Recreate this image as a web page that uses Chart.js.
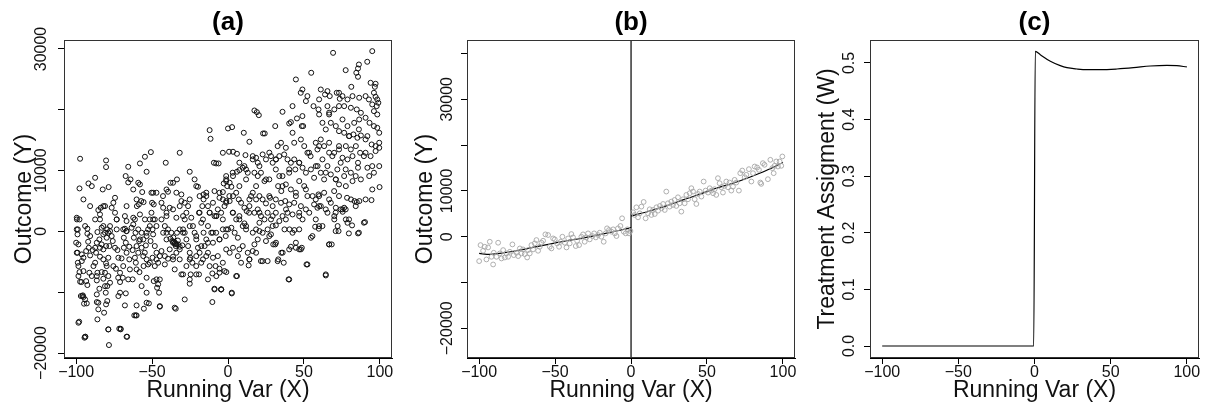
<!DOCTYPE html>
<html>
<head>
<meta charset="utf-8">
<script src="https://cdn.jsdelivr.net/npm/chart.js"></script>
<style>
  html, body { margin: 0; padding: 0; background: #fff; }
  #wrap { position: relative; width: 1209px; height: 405px; }
  .panel { position: absolute; top: 0; height: 405px; }
</style>
</head>
<body>
<div id="wrap">
  <div class="panel" style="left:0;width:400px"><canvas id="chartA"></canvas></div>
  <div class="panel" style="left:400px;width:400px"><canvas id="chartB"></canvas></div>
  <div class="panel" style="left:800px;width:409px"><canvas id="chartC"></canvas></div>
</div>
<script>
// x axis (all panels)
const xTicks = [-100, -50, 0, 50, 100];
const xMin = -108, xMax = 108;

// panel (a): raw outcome vs running variable
const aYTicks = [-20000, -10000, 0, 10000, 20000, 30000];
const aYLabeled = [-20000, 0, 10000, 30000];
const aYMin = -20820, aYMax = 31480;
const aPoints = [
  [-99.6,330],[-99.1,-490],[-98.5,-2140],[-99.6,-3510],[-98.9,-5150],[-98.5,-5700],[-97.8,-6690],[-98.5,-7340],[-97.4,-8270],[-96.5,-8330],
  [-96.9,-10630],[-95.6,-10520],[-95.2,-10800],[-94.8,-11890],[-93,-11840],[-98,-14850],[-94.5,-17480],[-93.9,-17320],[-97.4,11950],[-97.8,7070],
  [-94.1,880],[-92.6,440],[-92.6,-380],[-92.1,-1700],[-91.7,-2690],[-93.4,-3230],[-96.3,-3780],[-95.2,-4330],[-91.3,-6800],[-92.6,-8820],
  [-89.7,-7340],[-90.8,-3950],[-89.1,-3070],[-87.5,-2690],[-86.9,-3510],[-99.6,2250],[-97.8,1970],[-89.7,7450],[-91.9,7890],[-87.5,8820],
  [-86,-110],[-84.7,-1320],[-84.3,-2690],[-83.2,-2140],[-82.1,-490],[-83.2,600],[-84.3,1970],[-82.1,880],[-81,-220],[-79.9,-1040],
  [-80.3,-2410],[-79.5,330],[-77.7,50],[-76.6,-770],[-75.9,-1590],[-78.1,-2410],[-85.4,3510],[-83.8,3890],[-82.1,4160],[-84.3,-4160],
  [-82.1,-4600],[-80.3,-5260],[-79.9,-5700],[-83.2,-6690],[-86,-6800],[-81,-6800],[-86.4,-8060],[-82.1,-7780],[-78.8,-7340],[-77.7,-8440],
  [-79.5,-8990],[-86.4,-10360],[-86.4,-11620],[-85.4,-12820],[-86,-14470],[-80.5,-10080],[-79.5,-11450],[-80.3,-12000],[-81.6,-13370],[-78.8,-16110],
  [-78.4,-18690],[-71.6,-16000],[-80.3,11670],[-80.3,10580],[-82.5,6900],[-78.6,7290],[-76.6,3890],[-74.4,5530],[-75.5,4710],[-87.5,-5150],
  [-88.6,-5700],[-84.7,-9430],
  [-74.4,3070],[-73.3,1970],[-73.3,330],[-74.4,-2690],[-72.8,-3070],[-72.2,-4330],[-73.8,-6140],[-71.1,-6800],[-69.3,-7620],[-71.1,-8330],
  [-69,330],[-67.9,440],[-66.8,50],[-68.6,-1040],[-67.3,-1860],[-68.6,-2690],[-65,-2520],[-66.8,-3510],[-70.1,-4440],[-65,-4600],
  [-69,-5700],[-64.6,-6250],[-65.7,-7890],[-71.1,-10080],[-72.2,-10630],[-67.9,-12170],[-67.3,-10190],[-66.8,-17320],[-70.7,-16110],[-67.4,9100],
  [-65.7,8060],[-64.2,8550],[-65.7,10630],[-62.4,6900],[-67.9,2520],[-66.8,1700],[-63.5,600],[-62.4,2250],[-61.3,1970],[-60.9,-220],
  [-62,-1040],[-62.8,-3070],[-61.3,-4330],[-60.7,-5150],[-60.2,-6250],[-60.7,-13810],[-61.7,-13810],[-60.2,-12170],[-62.8,-7890],
  [-59.1,8000],[-58,7730],[-58,11180],[-54.7,12280],[-53.6,9810],[-56.5,6470],[-60,4160],[-58.7,4440],[-57.2,4990],[-55.6,4820],
  [-58,2790],[-54.7,1970],[-59.1,330],[-56.9,-220],[-55.8,-1320],[-58.5,-1590],[-53.6,-220],[-52.6,330],[-54.1,-2300],[-56.9,-2690],
  [-59.1,-3510],[-55.8,-4060],[-53.6,-4600],[-52.6,-5430],[-55.6,-5700],[-58.3,-6690],[-53.6,-7620],[-56.9,-8990],[-53.6,-10080],[-52.1,-11840],
  [-55.4,-12710],[-50.4,6360],[-49.3,6360],[-47.1,6360],[-50,4710],[-48.9,4440],[-50.4,3070],[-48.2,1970],[-47.1,880],[-49.7,330],
  [-49.3,-490],[-51,-1590],[-48.2,-2410],[-47.1,-3510],[-49.7,-4330],[-46,-5150],[-48.2,-5700],[-47.1,-7890],[-46,-8710],[-46.7,-9260],
  [-45.4,-10080],[-44.9,-12380],[-50.8,13040],[-48.9,-8170],
  [-41,11290],[-40.5,6900],[-39.5,6520],[-37.9,8000],[-36.2,8000],[-33.6,8550],[-31.8,12930],[-30.7,6080],[-43.8,4710],[-42.7,3890],
  [-40.5,3070],[-38.4,3890],[-36.2,3620],[-34,2250],[-31.8,4160],[-30.7,4990],[-43.8,1970],[-41.6,880],[-39.5,330],[-42.7,-220],
  [-40.5,-1320],[-37.9,-1210],[-36.6,-1590],[-35.1,-2030],[-34.4,-2410],[-32.9,-2140],[-31.8,-2520],[-30.1,-2300],[-43.8,-3230],[-41.6,-4060],
  [-39.5,-4490],[-36.2,-4160],[-34,-3510],[-31.8,-4600],[-41.6,-5430],[-35.1,-6250],[-30.7,-7070],[-34.4,-12710],[-37.3,-220],[-31.8,330],
  [-33.6,-220],[-35.5,-1700],[-34.8,-1900],[-33,-1500],[-36,-1000],
  [-29.6,330],[-28.5,-220],[-27.4,-1320],[-26.3,-2410],[-25.2,-3510],[-24.8,-4330],[-23.5,-5150],[-27.4,-5700],[-29.6,-7070],[-24.6,-7070],
  [-25.2,-8600],[-28.5,1970],[-27.4,3070],[-26.3,4160],[-25.2,5260],[-24.2,2250],[-23.1,880],[-22,-220],[-20.9,-1320],[-19.8,-2690],
  [-18.7,-3510],[-17.6,-5150],[-20.9,-5700],[-19.1,-7070],[-16.5,-4600],[-15.4,-2410],[-16.1,-220],[-17.6,1420],[-19.1,3070],[-16.9,4160],
  [-16.1,5260],[-20.9,7450],[-19.8,7340],[-18.7,5810],[-16.1,6080],[-25.2,9810],[-22,8550],[-28.5,4710],
  [-12.1,16660],[-11.5,15230],[-14.3,5810],[-9.3,11290],[-7.8,11180],[-6.2,11180],[-3.4,12930],[-8.9,6630],[-5.6,6360],[-13.2,4160],
  [-9.9,4710],[-12.1,3070],[-8.9,2520],[-6.7,3620],[-4.5,3070],[-2.3,4160],[-1.1,4990],[-13.2,880],[-11,-220],[-14.3,-1320],
  [-9.9,-1860],[-7.8,-220],[-5.6,-1320],[-3.4,330],[-1.5,-770],[0,330],[-13.2,-3510],[-9.9,-4330],[-6.7,-4060],[-8.2,-5700],
  [-5.6,-6140],[-2.3,-6520],[-1.1,-6690],[-10.3,-6910],[-13.2,-7890],[-8.9,-9430],[-4.5,-9540],[-10.3,-11620],[2.5,-10080],[-2.8,7890],
  [-1.2,8270],[-0.5,7450],[-5.6,5530],[-3.4,6470],
  [0,16930],[2.7,17150],[0.7,13100],[3.3,13100],[5.9,12770],[11.5,12550],[10.4,16220],[14.1,14740],[1.1,8000],[2.2,7340],
  [3.3,9100],[5.9,9810],[7.5,10080],[9.7,10470],[10.8,10740],[11.9,10190],[13,9650],[1.1,4990],[3.3,5810],[5.4,6360],
  [7.1,5260],[8.6,4710],[10.8,3890],[12.3,3340],[14.1,4160],[3.3,3070],[5.4,1970],[7.5,2520],[9.7,880],[11.9,330],
  [2.2,600],[4.4,-220],[6.5,-1040],[9.7,-2410],[13,-3510],[3.3,-2690],[1.1,-3510],[6.5,-4060],[8.6,-5150],[14.1,-4600],
  [5.9,-7340],[13.6,-5590],[10.8,1320],[13.9,3070],[15.2,5810],
  [17.4,19890],[19,19620],[20.3,19120],[23.1,16110],[24.2,16110],[16.3,12380],[18.5,12110],[19.6,11290],[22.8,12660],[25,11840],
  [28.3,12380],[29.4,11290],[17.4,9650],[19.6,9100],[21.7,9650],[24,8270],[27.2,8550],[16.3,6360],[18.5,5260],[20.7,5810],
  [22.8,5260],[25,4600],[27.7,5530],[29.4,4160],[17.4,3070],[19.6,3620],[21.7,2520],[24,1970],[26.1,3070],[28.3,1970],
  [18.5,330],[20.7,1420],[22.8,-220],[26.1,330],[29.4,880],[16.3,-3230],[18.5,-3510],[21.7,-4880],[26.1,-4880],[28.3,-490],
  [25,-1590],[17.4,-2140],[29.8,-2140],[19.6,-1320],
  [31.1,17320],[35.9,19670],[40.3,17750],[41.4,17970],[32.7,14030],[34.9,14580],[38.1,13750],[42.5,16220],[43.6,14580],[31.5,11840],
  [33.8,12380],[37,12660],[39.2,11840],[41.4,11290],[43.6,11840],[31.5,10190],[35.9,9100],[40.3,9650],[44.3,10190],[33,7450],
  [35.1,6630],[38.1,7730],[41.4,6900],[44.7,5810],[31.5,5260],[34.9,4710],[37.7,4990],[40.3,4440],[43.6,4710],[31.5,3070],
  [35.9,2520],[39.2,3070],[42.5,2790],[33.8,1700],[38.1,1970],[31.5,990],[37.2,330],[40.5,330],[43.7,220],[31.1,-2140],
  [33.1,-4600],[35.1,-3510],[36.7,-5150],[41.4,-2520],[39.9,-7890],[44.7,-2690],[42.5,-220],
  [44.7,24990],[45.4,18580],[48.6,17320],[49.5,17320],[49,23340],[47.9,22800],[52.3,22250],[51.3,21430],[54.8,26090],[56.3,20600],
  [59.6,20060],[48,15120],[50.2,14030],[52.3,12930],[54.4,12380],[57.8,14580],[58.9,13480],[46.9,11290],[49.1,10470],[51.3,9650],
  [54.6,10190],[56.7,8820],[59,10740],[46.9,8270],[50.2,7450],[52.3,5810],[55.7,5810],[57.8,5260],[59.6,6080],[48,4160],
  [51.3,3620],[56.7,4440],[58.9,3890],[46.9,2520],[49.1,1970],[53.5,3070],[57.8,1970],[57.4,770],[54.6,-1040],[48.6,-2690],
  [51.7,-5430],[46.9,330],[59.8,440],
  [61.1,23340],[65.5,23070],[63.9,22520],[67,22250],[69.2,29370],[65.5,20600],[66.6,19230],[71.6,22800],[73.1,22800],[73.6,21810],
  [70,20060],[60,19230],[62.2,17860],[64.4,16770],[67.7,17860],[71,17320],[73.1,16490],[61.1,15120],[63.3,14030],[66.6,14580],
  [69.9,12930],[73.1,13480],[62.2,11840],[65.5,10740],[68.7,12380],[72,10190],[74.2,11290],[61.1,9650],[63.3,8550],[67.7,9370],
  [71,8550],[73.1,7730],[60,5810],[63.3,6360],[66.6,5260],[69.9,6630],[73.1,5810],[61.1,4160],[64.4,3620],[67.7,4710],
  [71,3890],[74.2,3620],[62.2,880],[65.5,3070],[70,2520],[72.2,880],[66.6,-2140],[68.3,-2140],[64.4,-7070],[70,1970],
  [72.8,50],
  [77.5,26520],[81.2,23780],[86.2,27450],[85.6,26800],[84.5,26090],[85.6,25430],[75.4,22250],[78.7,21700],[82,22250],[86.4,21980],
  [76.5,20600],[80.9,20330],[84.8,20060],[87.5,19510],[75.4,18410],[78.7,17320],[83.1,17860],[86.4,18410],[76.5,16220],[79.8,15670],
  [82.6,15950],[85.2,15400],[87.5,15780],[77.6,14030],[80.9,13480],[84.2,14030],[87,12930],[75.4,12110],[78.7,11840],[82,12380],
  [85.6,11290],[89.5,12380],[76.5,9100],[80.9,9650],[85.6,10470],[87.5,8550],[77.6,7450],[82,8270],[78.4,5530],[81,5260],
  [83.3,4990],[84.8,4820],[86.5,4990],[76.5,3890],[75.4,3620],[77.6,1970],[78.7,1420],[81.7,990],[79.6,-330],[85.6,-330],
  [75.5,3230],
  [91.7,27900],[95,29650],[93.9,24440],[97.2,24280],[96.7,23780],[96.1,22800],[97.2,22140],[98.3,21700],[99,21150],[97.9,20600],
  [90.6,22250],[92.8,21700],[95,20880],[96.1,19780],[98.3,19230],[90.6,18690],[93.2,17860],[96.1,17320],[98.3,17040],[99.6,16220],
  [91.8,15670],[94.6,14300],[97.2,14030],[99.6,14580],[90.6,12930],[93.9,12380],[97.2,13210],[99.6,13750],[91.8,10470],[95,10740],
  [99.6,10740],[93,9100],[96.1,9650],[95,6900],[99.8,7290],[90.6,5260],[94.5,5150],[90.2,1530],
  // second reading pass, lower half
  [-99.5,1970],[-98.9,330],[-100,-1860],[-99.1,-3500],[-96.3,-4880],[-95.2,-6530],[-93.4,-8180],[-95.9,-10640],[-94.1,-11190],[-98.5,-15020],
  [-94.1,-17320],[-87.5,1970],[-84.3,2800],[-81,4160],[-77.7,870],[-78.8,-210],[-90.8,-770],[-86.4,-1860],[-82.1,-2960],[-78.8,-4330],
  [-75.5,-5710],[-72.3,-7620],[-86.4,-7350],[-81,-9000],[-85.4,-11730],[-78.8,-16120],[-70.7,-16010],[-66.4,-17320],[-66.8,50],[-62.4,1150],
  [-58,-1320],[-60.2,-2420],[-53.6,-770],[-51.5,870],[-49.3,1970],[-54.8,-3500],[-51.5,-5150],[-47.1,-4610],[-44.9,-7900],[-60.2,-13820],
  [-53.6,-11730],[-44.9,-12290],[-40.5,-210],[-36.2,-1860],[-34,-2140],[-31.8,-2960],[-38.4,-2960],[-29.6,-210],[-25.2,870],[-20.9,-770],
  [-17.6,-2420],[-14.3,-4060],[-12.1,-5710],[-7.7,-7350],[-5.6,-6790],[-8.9,-9540],[-4.5,-9540],[-28.5,-11190],[-35.1,-12550],[-25.2,-7900],
  [-20.9,-7070],[-16.5,1970],[-12.1,3080],[-7.7,2520],[-3.4,1970],[-1.2,330],[-5.6,-1320],[-10,-210],[-13.2,-1860],[-20.9,-4060],
  [-25.2,-4610],[-36.2,-4610],[-44.9,-4060],
  [-1.2,4720],[3.1,3080],[7.5,1970],[11.9,870],[16.3,-210],[20.7,50],[27.2,-770],[31.6,-1860],[36,-3500],[40.3,-2960],
  [44.7,-1860],[48,-2960],[52.3,-5430],[64.4,-7240],[40.3,-7900],[55.6,-770],[60,870],[66.6,-2140],[70.9,50],[79.7,1970],
  [86.2,-210],[89.5,1430],[-1.2,-2960],[-3.4,-5150],[5.4,-7350],[2.5,-10200],[-4.5,-9540],[7.5,-2960],[14.1,-4610],[22.8,-4890],
  [32.7,-4890],[46.9,-2960],[20.7,3080],[29.4,2520],[38.2,3620],[46.9,3080],[60,4160],[70.9,3080],[77.5,3620],[84.1,4160],
  // second reading pass, upper half
  [16.3,11840],[20.7,10740],[27.2,12950],[31.6,11840],[7.5,11300],[3.1,9660],[-1.2,9100],[11.9,8550],[18.5,7450],[25,8550],
  [33.8,9100],[40.3,10200],[46.9,11300],[53.4,12950],[60,14030],[66.6,12950],[73.1,14030],[79.7,15680],[86.2,16780],[90.6,15130],
  [57.8,10740],[64.4,9660],[71,8550],[77.5,10200],[84.1,9100],[7.5,7450],[35.9,7450],[44.7,6370],[51.3,6910],[27.2,5810],
  [14.1,5260],[0.9,5810],[60,21710],[66.6,19530],[73.1,20610],[49,18970],[42.5,20610],
  [-95.2,5260],[-90.8,4160],[-73.3,1970],[-51.5,1970],[-40.5,2520],[-29.6,2520],[-18.7,3080],[-7.7,2520],[-34,6370],[-42.8,5810],
  [-60.2,5260],[-66.8,4160],[-14.3,6370],[-3.4,5260],[-1.2,8550]
];

// panel (b): binned means and fitted lines either side of the cutoff
const bYTicks = [-20000, -10000, 0, 10000, 20000, 30000, 40000];
const bYLabeled = [-20000, 0, 10000, 30000];
const bYMin = -26480, bYMax = 42950;
const bPoints = [
  [-100,-5330],[-99.1,-1830],[-97.4,-3070],[-96.3,-2190],[-95.2,-4960],[-94.1,-2340],[-93,-1100],[-91.9,-4380],[-90.8,-6060],[-90.4,-3500],
  [-88.6,-4380],[-87.5,-1310],[-86.4,-3650],[-85.3,-4750],[-84.2,-2920],[-83.1,-4530],[-82,-3650],[-80.9,-4380],[-79.8,-3290],[-78.1,-1680],
  [-77.2,-4020],[-75.4,-3500],[-74.3,-4230],[-73.2,-2560],[-72.1,-3650],[-71.1,-2770],[-70,-3800],[-68.4,-4530],[-67.8,-2920],[-66.7,-3650],
  [-65.6,-1830],[-64.5,-2770],[-63.4,-1460],[-62.3,-730],[-61.2,-3070],[-60.1,-2190],[-59,-1310],[-57.9,-880],[-56.4,510],[-54.6,370],
  [-53.5,-2190],[-52.4,-2560],[-51.3,-370],[-50.2,-580],[-48.7,-1460],[-47.4,-2190],[-46.3,-1100],[-45.2,0],[-43.6,-1310],[-42.5,-2340],
  [-41.4,-370],[-40.4,-1460],[-39.3,580],[-38.2,-150],[-36.4,-2040],[-35.5,-880],[-34.2,-1830],[-32.7,0],[-31.6,510],[-30.5,-1100],
  [-29.4,-150],[-28.3,730],[-27.2,-580],[-25.4,150],[-24.3,730],[-23.2,-150],[-21.7,370],[-20.6,880],[-19.5,0],[-18,-1100],
  [-16.7,730],[-15.8,1830],[-14.5,1460],[-12.9,1100],[-11.8,1610],[-10.7,730],[-9.6,150],[-8.6,1830],[-7,2340],[-5.9,4020],
  [-4.8,1100],[-3.5,730],[-2.4,1610],[-1.3,730],[-0.4,1240],
  [1.3,5330],[2.4,4750],[3.5,6420],[4.6,4230],[5.7,5110],[6.8,6570],[8.3,7590],[9.6,4020],[11.2,5110],[12.3,5990],
  [13.4,4750],[14.5,5840],[15.6,4960],[16.7,6420],[17.8,5690],[19,6720],[20.1,6210],[21.1,7150],[22.2,5840],[23.2,9860],
  [24.3,7300],[25.4,6570],[26.5,7670],[27.6,6940],[28.7,8030],[29.8,6720],[30.9,8610],[32,7300],[33.1,5480],[34.2,8180],
  [35.3,7300],[36.4,9130],[37.5,8180],[38.6,9490],[39.7,10590],[40.8,9860],[41.9,8180],[43,7150],[44.1,9340],[45.2,9860],
  [46.3,8760],[47.8,12050],[49.1,10070],[50.7,9640],[51.8,10590],[52.9,10070],[54,9490],[55,10370],[56.1,9130],[57.2,12780],
  [58.3,11680],[59.4,10800],[60.5,9640],[61.6,11100],[62.7,12050],[63.8,10800],[64.9,11830],[66,10070],[67.1,10950],[68.2,12410],
  [69.3,11830],[71,10070],[71.9,13870],[73.2,14450],[74.8,12990],[75.9,13510],[77.6,14750],[79.2,12050],[80.3,13870],[81.4,15330],
  [83,15110],[84.2,14600],[85.1,11830],[85.7,11540],[86.8,16060],[87.9,15700],[90.1,12560],[91.7,16790],[93,14970],[93.9,13870],
  [94.5,15480],[95.6,16430],[96.7,15330],[97.8,16430],[98.9,15480],[99.6,17520]
];
const bLeftX = [-100, -93, -86.4, -75.4, -64.5, -53.5, -42.5, -31.6, -20.6, -9.6, 0];
const bLeftY = [-3650, -3870, -3650, -3070, -2340, -1610, -880, -290, 440, 1240, 1970];
const bRightX = [0, 12.3, 23.2, 34.2, 45.2, 56.1, 67.1, 78.1, 89, 100];
const bRightY = [4530, 5620, 6720, 8030, 9270, 10590, 11680, 12990, 14450, 16200];
const cutoff = 0;

// panel (c): treatment assignment
const cYTicks = [0, 0.1, 0.2, 0.3, 0.4, 0.5];
const cYMin = -0.0212, cYMax = 0.5406;
const cX = [-100, -0.5, 0.5, 3.8, 10.4, 16.9, 21.3, 27.9, 34.4, 43.2, 54.1, 65, 76, 86.9, 93.4, 100];
const cY = [0, 0, 0.5206, 0.5147, 0.503, 0.4953, 0.4917, 0.4894, 0.4882, 0.4882, 0.4894, 0.4917, 0.4947, 0.4959, 0.4953, 0.493];

const FONT = "'Liberation Sans', Arial, Helvetica, sans-serif";
const TXT = '#111';

function fmt(v) {
  return v < 0 ? '\u2212' + Math.abs(v) : String(v);
}
function toXY(xs, ys) {
  return xs.map((x, i) => ({ x: x, y: ys[i] }));
}

// box round the plot region, as in R
const boxPlugin = {
  id: 'box',
  afterDraw(chart) {
    const { ctx, chartArea: a } = chart;
    ctx.save();
    ctx.strokeStyle = '#333';
    ctx.lineWidth = 1;
    ctx.strokeRect(Math.round(a.left) + 0.5, Math.round(a.top) + 0.5,
      Math.round(a.right - a.left) - 1, Math.round(a.bottom - a.top) - 1);
    ctx.restore();
  }
};

function panelOptions(p) {
  return {
    responsive: true,
    maintainAspectRatio: false,
    animation: false,
    layout: { padding: { left: 0, right: p.padRight, top: 0, bottom: 0 } },
    plugins: {
      legend: { display: false },
      tooltip: { enabled: false },
      title: {
        display: true, text: p.title, fullSize: false, color: '#000',
        font: { family: FONT, size: 26, weight: 'bold' },
        padding: { top: 6.9, bottom: 1.9 }
      }
    },
    scales: {
      x: {
        type: 'linear', min: xMin, max: xMax,
        afterBuildTicks: s => { s.ticks = xTicks.map(v => ({ value: v })); },
        afterFit: s => { s.height = 47; },
        grid: { drawOnChartArea: false, drawTicks: true, tickLength: 6, color: '#000' },
        border: { display: true, color: '#000' },
        ticks: {
          color: TXT, font: { family: FONT, size: 16 }, padding: -1.5,
          maxRotation: 0, autoSkip: false, callback: v => fmt(v)
        },
        title: {
          display: true, text: 'Running Var (X)', color: TXT,
          font: { family: FONT, size: 23 }, padding: { top: 0, bottom: 1 }
        }
      },
      y: {
        type: 'linear', min: p.yMin, max: p.yMax,
        afterBuildTicks: s => { s.ticks = p.yTicks.map(v => ({ value: v })); },
        afterFit: s => { s.width = p.yWidth; },
        grid: { drawOnChartArea: false, drawTicks: true, tickLength: 6, color: '#000' },
        border: { display: true, color: '#000' },
        ticks: {
          color: TXT, font: { family: FONT, size: 16 }, padding: p.yTickPad,
          minRotation: 90, maxRotation: 90, crossAlign: 'center', autoSkip: false,
          callback: p.yLabel
        },
        title: {
          display: true, text: p.yTitle, color: TXT,
          font: { family: FONT, size: 23 }, padding: { top: p.yTitlePad, bottom: 0 }
        }
      }
    }
  };
}

new Chart(document.getElementById('chartA'), {
  type: 'scatter',
  data: {
    datasets: [{
      data: aPoints.map(p => ({ x: p[0], y: p[1] })),
      pointRadius: 2.5, pointBorderWidth: 1,
      pointBorderColor: '#111', pointBackgroundColor: 'rgba(0,0,0,0)'
    }]
  },
  options: panelOptions({
    title: '(a)', padRight: 8, yWidth: 64, yTickPad: -10.9, yTitlePad: 11.2,
    yMin: aYMin, yMax: aYMax, yTicks: aYTicks, yTitle: 'Outcome (Y)',
    yLabel: v => aYLabeled.includes(v) ? fmt(v) : ''
  }),
  plugins: [boxPlugin]
});

new Chart(document.getElementById('chartB'), {
  type: 'scatter',
  data: {
    datasets: [
      {
        data: bPoints.map(p => ({ x: p[0], y: p[1] })),
        pointRadius: 2.4, pointBorderWidth: 0.9,
        pointBorderColor: '#a6a6a6', pointBackgroundColor: 'rgba(0,0,0,0)'
      },
      {
        data: toXY(bLeftX, bLeftY), showLine: true, pointRadius: 0,
        borderColor: '#000', borderWidth: 1.2, cubicInterpolationMode: 'monotone'
      },
      {
        data: toXY(bRightX, bRightY), showLine: true, pointRadius: 0,
        borderColor: '#000', borderWidth: 1.2, cubicInterpolationMode: 'monotone'
      },
      {
        data: [{ x: cutoff, y: bYMin }, { x: cutoff, y: bYMax }], showLine: true, pointRadius: 0,
        borderColor: '#000', borderWidth: 1.2
      }
    ]
  },
  options: panelOptions({
    title: '(b)', padRight: 4, yWidth: 67, yTickPad: -13.9, yTitlePad: 12.2,
    yMin: bYMin, yMax: bYMax, yTicks: bYTicks, yTitle: 'Outcome (Y)',
    yLabel: v => bYLabeled.includes(v) ? fmt(v) : ''
  }),
  plugins: [boxPlugin]
});

new Chart(document.getElementById('chartC'), {
  type: 'scatter',
  data: {
    datasets: [{
      data: toXY(cX, cY), showLine: true, pointRadius: 0,
      borderColor: '#000', borderWidth: 1.2, cubicInterpolationMode: 'monotone'
    }]
  },
  options: panelOptions({
    title: '(c)', padRight: 10, yWidth: 70, yTickPad: 2.9, yTitlePad: 14.2,
    yMin: cYMin, yMax: cYMax, yTicks: cYTicks, yTitle: 'Treatment Assigment (W)',
    yLabel: v => v.toFixed(1)
  }),
  plugins: [boxPlugin]
});
</script>
</body>
</html>
